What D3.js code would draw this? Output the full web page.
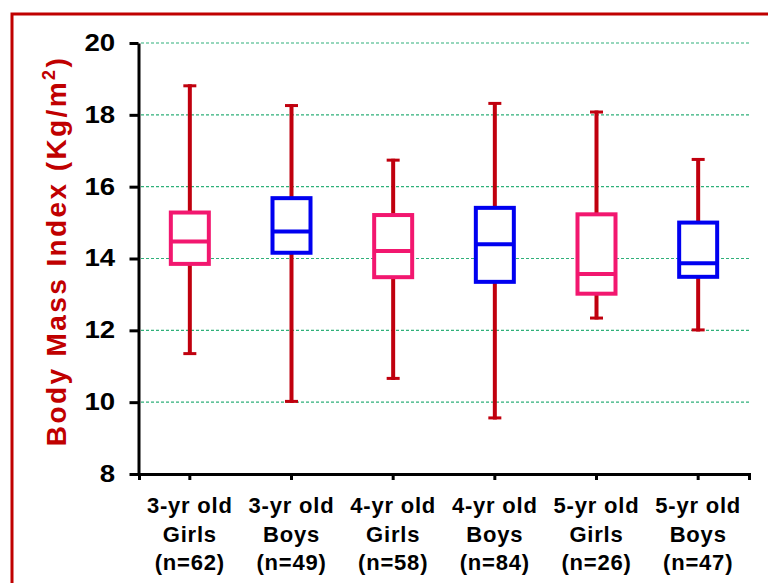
<!DOCTYPE html>
<html>
<head>
<meta charset="utf-8">
<script src="https://cdn.jsdelivr.net/npm/d3@7"></script>
<style>
  html, body { margin: 0; padding: 0; background: #fff; }
  svg { display: block; }
  text { font-family: "Liberation Sans", Arial, sans-serif; font-weight: bold; }
</style>
</head>
<body>
<svg id="chart" width="768" height="583"></svg>
<script>
// ---- data ----
const ageLabels = ["3-yr old", "3-yr old", "4-yr old", "4-yr old", "5-yr old", "5-yr old"];
const sexLabels = ["Girls", "Boys", "Girls", "Boys", "Girls", "Boys"];
const counts = [62, 49, 58, 84, 26, 47];
const whiskerLow = [11.31, 9.98, 10.62, 9.52, 12.30, 11.97];
const q1 = [13.85, 14.16, 13.48, 13.35, 13.02, 13.49];
const median = [14.47, 14.75, 14.21, 14.40, 13.57, 13.87];
const q3 = [15.28, 15.68, 15.21, 15.41, 15.23, 15.00];
const whiskerHigh = [18.85, 18.30, 16.78, 18.36, 18.12, 16.80];
const yTicks = [8, 10, 12, 14, 16, 18, 20];
const gridValues = [10, 12, 14, 16, 18, 20];

const boxColor = { Girls: "#f2176f", Boys: "#0000f0" };
const whiskerColor = "#c0000e";
const labelRed = "#c00000";

const svg = d3.select("#chart");

// frame
svg.append("rect")
  .attr("x", 12).attr("y", 14).attr("width", 800).attr("height", 620)
  .attr("fill", "none").attr("stroke", "#c00000").attr("stroke-width", 3);

const x = d3.scaleBand().domain(d3.range(ageLabels.length)).range([139, 749]).padding(0);
const y = d3.scaleLinear().domain([8, 20]).range([474, 43]);

// grid
svg.append("g").selectAll("line").data(gridValues).join("line")
  .attr("x1", 141).attr("x2", 749)
  .attr("y1", d => y(d)).attr("y2", d => y(d))
  .attr("stroke", "#2fb07a").attr("stroke-width", 1.2)
  .attr("stroke-dasharray", "3,2");

// boxes
const boxW = 38;
const groups = svg.append("g").selectAll("g").data(d3.range(ageLabels.length)).join("g")
  .attr("transform", i => `translate(${x(i) + x.bandwidth() / 2},0)`);

groups.append("line")
  .attr("x1", 0).attr("x2", 0)
  .attr("y1", i => y(whiskerHigh[i])).attr("y2", i => y(whiskerLow[i]))
  .attr("stroke", whiskerColor).attr("stroke-width", 4);
groups.append("line")
  .attr("x1", -6.5).attr("x2", 6.5)
  .attr("y1", i => y(whiskerHigh[i]) + 1.5).attr("y2", i => y(whiskerHigh[i]) + 1.5)
  .attr("stroke", whiskerColor).attr("stroke-width", 3);
groups.append("line")
  .attr("x1", -6.5).attr("x2", 6.5)
  .attr("y1", i => y(whiskerLow[i]) - 1.5).attr("y2", i => y(whiskerLow[i]) - 1.5)
  .attr("stroke", whiskerColor).attr("stroke-width", 3);
groups.append("rect")
  .attr("x", -boxW / 2).attr("width", boxW)
  .attr("y", i => y(q3[i])).attr("height", i => y(q1[i]) - y(q3[i]))
  .attr("fill", "#fff")
  .attr("stroke", i => boxColor[sexLabels[i]]).attr("stroke-width", 4);
groups.append("line")
  .attr("x1", -boxW / 2).attr("x2", boxW / 2)
  .attr("y1", i => y(median[i])).attr("y2", i => y(median[i]))
  .attr("stroke", i => boxColor[sexLabels[i]]).attr("stroke-width", 4);

// y axis
const yAxis = svg.append("g").attr("transform", "translate(138.5,0)")
  .call(d3.axisLeft(y).tickValues(yTicks).tickSizeInner(9).tickSizeOuter(0).tickPadding(20));
yAxis.select(".domain").attr("stroke", "#000").attr("stroke-width", 3);
yAxis.selectAll(".tick line").attr("stroke", "#000").attr("stroke-width", 3);
yAxis.selectAll(".tick text")
  .attr("fill", "#000")
  .style("font-size", "23px")
  .style("font-family", "'Liberation Sans', Arial, sans-serif")
  .style("font-weight", "bold")
  .attr("x", -19.5)
  .attr("transform", "scale(1.2,1)");

// x axis
const xAxis = svg.append("g").attr("transform", "translate(0,474)")
  .call(d3.axisBottom(x).tickSizeInner(6).tickSizeOuter(6).tickFormat(""));
xAxis.select(".domain").attr("stroke", "#000").attr("stroke-width", 3);
xAxis.selectAll(".tick line").attr("stroke", "#000").attr("stroke-width", 3);

// x labels
const lab = svg.append("g").selectAll("text").data(d3.range(ageLabels.length)).join("text")
  .attr("text-anchor", "middle")
  .attr("fill", "#000")
  .style("font-size", "22px")
  .style("letter-spacing", "0.8px")
  .attr("transform", i => `translate(${x(i) + x.bandwidth() / 2},0)`);
lab.append("tspan").attr("x", 0).attr("y", 513).text(i => ageLabels[i]);
lab.append("tspan").attr("x", 0).attr("y", 542).text(i => sexLabels[i]);
lab.append("tspan").attr("x", 0).attr("y", 570).text(i => `(n=${counts[i]})`);

// y title
const yt = svg.append("text")
  .attr("transform", "translate(66,251) rotate(-90)")
  .attr("text-anchor", "middle")
  .attr("fill", labelRed)
  .style("font-size", "28px")
  .style("letter-spacing", "2.4px");
yt.append("tspan").text("Body Mass Index (Kg/m");
yt.append("tspan").attr("dy", -11).style("font-size", "18px").text("2");
yt.append("tspan").attr("dy", 11).text(")");
</script>
</body>
</html>
